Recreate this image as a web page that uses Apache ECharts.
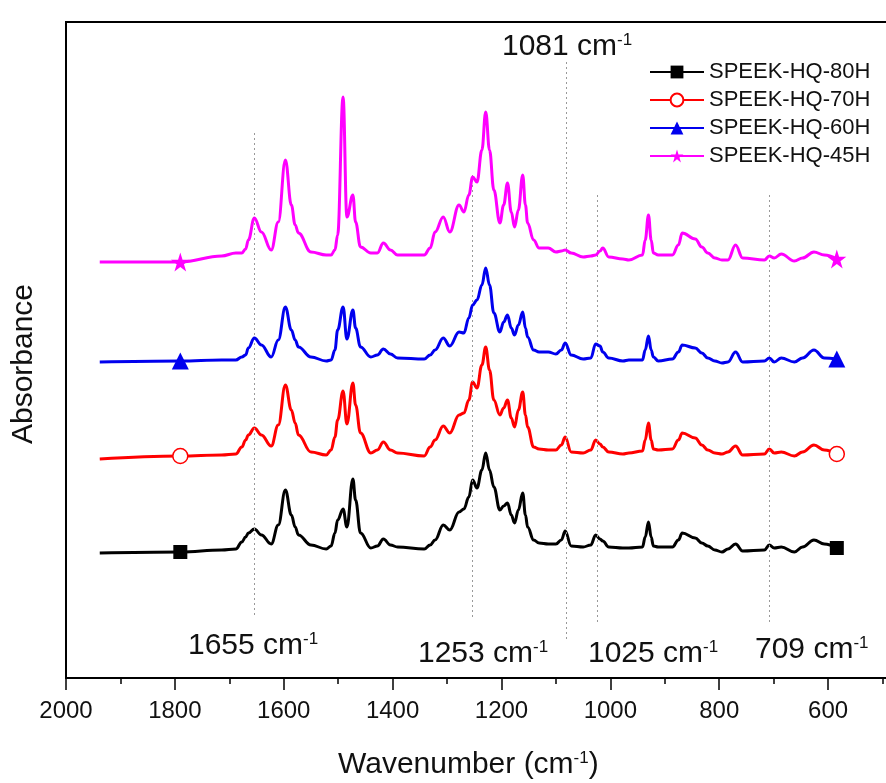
<!DOCTYPE html>
<html>
<head>
<meta charset="utf-8">
<script src="https://cdn.jsdelivr.net/npm/echarts@6/dist/echarts.min.js"></script>
<style>
html,body{margin:0;padding:0;background:#fff;overflow:hidden;width:886px;height:783px;}
#chart{width:960px;height:783px;}
</style>
</head>
<body>
<div id="chart"></div>
<script>
// Wavenumber grid (cm-1)
const wavenumbers = [1938,1790,1714,1688,1677,1670,1665,1654,1641,1623,
  1610,1597,1586,1579,1573,1550,1522,1513,1506,1501,
  1491,1484,1473,1468,1459,1440,1428,1417,1404,1391,
  1342,1331,1322,1307,1295,1278,1269,1260,1253,1245,
  1236,1229,1222,1214,1203,1196,1189,1182,1176,1169,
  1161,1156,1152,1141,1131,1114,1100,1090,1083,1072,
  1050,1036,1027,1019,1014,1003,977,966,941,936,
  930,925,921,912,886,875,868,844,832,821,
  808,795,784,770,757,717,708,699,686,662,
  647,626,607,584];

// Absorbance (offset, a.u.)
const hq45 = [4.16,4.16,4.22,4.25,4.25,4.29,4.38,4.60,4.46,4.28,
  4.56,5.18,4.73,4.53,4.45,4.26,4.23,4.23,4.28,4.43,
  5.81,4.61,4.83,4.56,4.31,4.25,4.25,4.35,4.28,4.23,
  4.23,4.30,4.46,4.61,4.46,4.73,4.66,4.83,5.01,4.96,
  5.28,5.66,5.28,4.88,4.55,4.73,4.95,4.66,4.51,4.68,
  5.03,4.73,4.55,4.38,4.30,4.30,4.26,4.27,4.28,4.25,
  4.21,4.22,4.23,4.27,4.30,4.21,4.19,4.18,4.23,4.38,
  4.63,4.38,4.25,4.23,4.23,4.33,4.45,4.39,4.31,4.25,
  4.20,4.18,4.18,4.33,4.20,4.18,4.22,4.20,4.24,4.17,
  4.20,4.26,4.23,4.19];
const hq60 = [3.16,3.17,3.18,3.18,3.21,3.23,3.30,3.40,3.33,3.21,
  3.38,3.71,3.48,3.38,3.31,3.21,3.17,3.18,3.28,3.48,
  3.71,3.39,3.68,3.50,3.31,3.21,3.23,3.29,3.24,3.20,
  3.19,3.23,3.28,3.40,3.32,3.46,3.45,3.60,3.73,3.78,
  3.93,4.10,3.93,3.65,3.46,3.56,3.63,3.50,3.43,3.53,
  3.66,3.50,3.41,3.28,3.26,3.26,3.24,3.28,3.35,3.23,
  3.19,3.20,3.34,3.32,3.26,3.20,3.17,3.18,3.18,3.28,
  3.42,3.28,3.21,3.17,3.19,3.26,3.33,3.30,3.25,3.20,
  3.17,3.15,3.16,3.26,3.16,3.17,3.20,3.16,3.20,3.16,
  3.20,3.28,3.20,3.19];
const hq70 = [2.19,2.22,2.23,2.24,2.31,2.38,2.43,2.50,2.43,2.32,
  2.53,2.93,2.68,2.55,2.43,2.26,2.23,2.28,2.41,2.58,
  2.87,2.54,2.95,2.73,2.45,2.25,2.28,2.36,2.28,2.25,
  2.22,2.31,2.38,2.52,2.45,2.63,2.65,2.78,2.96,2.90,
  3.13,3.31,3.08,2.78,2.63,2.70,2.78,2.60,2.51,2.68,
  2.86,2.63,2.51,2.31,2.29,2.28,2.28,2.33,2.41,2.26,
  2.25,2.28,2.38,2.34,2.31,2.26,2.24,2.25,2.27,2.38,
  2.55,2.38,2.29,2.28,2.29,2.38,2.45,2.40,2.33,2.28,
  2.25,2.24,2.26,2.32,2.23,2.24,2.29,2.25,2.26,2.22,
  2.26,2.33,2.28,2.24];
const hq80 = [1.25,1.26,1.28,1.29,1.36,1.41,1.45,1.49,1.43,1.34,
  1.53,1.88,1.63,1.51,1.43,1.33,1.29,1.32,1.45,1.58,
  1.69,1.51,1.99,1.78,1.45,1.30,1.32,1.39,1.33,1.31,
  1.29,1.33,1.38,1.53,1.48,1.66,1.69,1.81,1.98,1.90,
  2.08,2.25,2.08,1.91,1.68,1.72,1.75,1.63,1.55,1.68,
  1.85,1.63,1.51,1.38,1.35,1.34,1.34,1.38,1.47,1.32,
  1.31,1.33,1.43,1.39,1.37,1.31,1.30,1.30,1.31,1.41,
  1.56,1.41,1.32,1.31,1.31,1.38,1.45,1.40,1.35,1.32,
  1.28,1.26,1.29,1.34,1.27,1.28,1.33,1.30,1.31,1.26,
  1.31,1.38,1.34,1.30];

const seriesNames = ['SPEEK-HQ-80H','SPEEK-HQ-70H','SPEEK-HQ-60H','SPEEK-HQ-45H'];
const markerWavenumbers = [1790, 584];

// Guide lines (dotted) at marked bands
const guideWavenumbers = [1655, 1253, 1081, 1025, 709];
const guideTop = [5.45, 5.03, 6.16, 4.83, 4.83];
const guideBottom = [0.61, 0.58, 0.38, 0.56, 0.53];

const FONT = '"Liberation Sans", Arial, sans-serif';

function buildData(vals) {
  return wavenumbers.map((w, i) => {
    const item = { value: [w, vals[i]] };
    if (markerWavenumbers.indexOf(w) < 0) item.symbol = 'none';
    return item;
  });
}

const styles = [
  { color: '#000000', symbol: 'rect', size: 14, fill: '#000000', data: hq80 },
  { color: '#ff0000', symbol: 'circle', size: 15, fill: '#ffffff', data: hq70 },
  { color: '#0000ee', symbol: 'triangle', size: 17, fill: '#0000ee', data: hq60 },
  { color: '#ff00ff', symbol: 'path://M50,0 L61.8,35.4 L100,35.4 L69.1,57.3 L80.9,93.3 L50,71.2 L19.1,93.3 L30.9,57.3 L0,35.4 L38.2,35.4 Z', size: 19, fill: '#ff00ff', data: hq45 }
];

const series = styles.map((s, k) => ({
  name: seriesNames[k],
  type: 'line',
  data: buildData(s.data),
  smooth: 0.4,
  smoothMonotone: 'x',
  symbol: s.symbol,
  symbolSize: s.size,
  showSymbol: true,
  color: s.color,
  lineStyle: { color: s.color, width: 3 },
  itemStyle: { color: s.fill, borderColor: s.color, borderWidth: s.fill === '#ffffff' ? 1.5 : 0 },
  z: 3 + k,
  animation: false
}));

series[0].markLine = {
  silent: true,
  symbol: ['none', 'none'],
  label: { show: false },
  lineStyle: { type: [2, 3], color: '#999', width: 1 },
  data: guideWavenumbers.map((w, i) => [
    { coord: [w, guideTop[i]] },
    { coord: [w, guideBottom[i]] }
  ])
};

function annot(x, y, num) {
  return {
    type: 'text',
    x: x, y: y,
    style: {
      text: '{a|' + num + ' cm}{s|-1}',
      fill: '#111',
      verticalAlign: 'middle',
      rich: {
        a: { fontSize: 30, fontFamily: FONT, fill: '#111', verticalAlign: 'bottom' },
        s: { fontSize: 17, fontFamily: FONT, fill: '#111', verticalAlign: 'top' }
      }
    }
  };
}

const chart = echarts.init(document.getElementById('chart'), null, { renderer: 'canvas' });
chart.setOption({
  animation: false,
  backgroundColor: '#ffffff',
  grid: {
    left: 66, top: 22, width: 878, height: 656,
    show: true, borderColor: '#000', borderWidth: 2, backgroundColor: 'transparent'
  },
  legend: {
    orient: 'vertical',
    left: 649, top: 61,
    padding: 0,
    itemWidth: 54, itemHeight: 16, itemGap: 6,
    textStyle: { fontSize: 22, fontFamily: FONT, color: '#111' },
    data: seriesNames
  },
  xAxis: {
    type: 'value',
    min: 400, max: 2000, interval: 200,
    inverse: true,
    axisLine: { show: true, lineStyle: { color: '#000', width: 2 } },
    axisTick: { show: true, inside: false, length: 12, lineStyle: { color: '#000', width: 1.5 } },
    minorTick: { show: true, splitNumber: 2, length: 6, lineStyle: { color: '#000', width: 1.5 } },
    splitLine: { show: false },
    axisLabel: { fontSize: 24, fontFamily: FONT, color: '#111', margin: 21, formatter: v => String(v) }
  },
  yAxis: {
    type: 'value', min: 0, max: 6.56, show: false
  },
  graphic: [
    annot(502, 47, '1081'),
    annot(188, 646, '1655'),
    annot(418, 654, '1253'),
    annot(588, 654, '1025'),
    annot(755, 650, '709'),
    {
      type: 'text', x: 338, y: 765,
      style: {
        text: '{a|Wavenumber (cm}{s|-1}{a|)}',
        fill: '#111', verticalAlign: 'middle',
        rich: {
          a: { fontSize: 30, fontFamily: FONT, fill: '#111', verticalAlign: 'bottom' },
          s: { fontSize: 17, fontFamily: FONT, fill: '#111', verticalAlign: 'top' }
        }
      }
    },
    {
      type: 'text', x: 24, y: 364, rotation: Math.PI / 2,
      style: {
        text: 'Absorbance', fill: '#111',
        fontSize: 30, fontFamily: FONT,
        align: 'center', verticalAlign: 'middle'
      }
    }
  ],
  series: series
});
</script>
</body>
</html>
